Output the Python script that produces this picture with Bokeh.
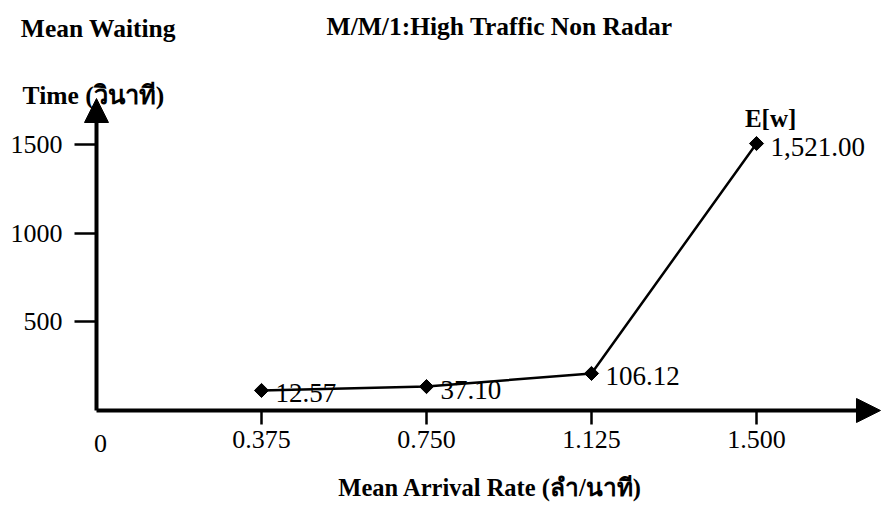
import math
from bokeh.plotting import figure
from bokeh.models import (ColumnDataSource, FixedTicker, Label, LabelSet, Arrow,
                          NormalHead, Range1d, LinearAxis)
from bokeh.embed import file_html
from bokeh.resources import INLINE

# ---- data ----
arrival_rate = [0.375, 0.750, 1.125, 1.500]
mean_wait = [12.57, 37.10, 106.12, 1521.00]          # E[w] values as printed
drawn_height = [113, 135, 209, 1506]                  # heights as drawn in the figure
point_labels = ["12.57", "37.10", "106.12", "1,521.00"]
x_tick_labels = ["0.375", "0.750", "1.125", "1.500"]
y_ticks = [500, 1000, 1500]

title_text = "M/M/1:High Traffic Non Radar"
y_title_1 = "Mean Waiting"
y_title_2 = "Time (วินาที)"
x_title = "Mean Arrival Rate (ลำ/นาที)"
series_name = "E[w]"

SERIF = "Liberation Serif"

X_ARROW = 1.7818
Y_ARROW = 1760

p = figure(width=881, height=514, output_backend="svg", toolbar_location=None,
           x_range=Range1d(-0.21818, 1.78409), y_range=Range1d(-586.7, 2312.9),
           x_axis_type=None, y_axis_type=None,
           min_border=0)
p.outline_line_color = None
p.xgrid.visible = False
p.ygrid.visible = False
p.background_fill_color = "white"
p.border_fill_color = "white"

# axes placed at the origin
xa = LinearAxis(fixed_location=0)
xa.ticker = FixedTicker(ticks=arrival_rate)
xa.major_label_overrides = {v: s for v, s in zip(arrival_rate, x_tick_labels)}
xa.axis_line_color = None
xa.major_tick_out = 14
xa.major_tick_in = 0
xa.major_tick_line_width = 2.5
xa.major_tick_line_color = "black"
xa.minor_tick_line_color = None
xa.major_label_text_font = SERIF
xa.major_label_text_font_size = "26px"
xa.major_label_text_color = "black"
xa.major_label_standoff = 7
p.add_layout(xa, "below")

ya = LinearAxis(fixed_location=0)
ya.ticker = FixedTicker(ticks=y_ticks)
ya.axis_line_color = None
ya.major_tick_out = 22
ya.major_tick_in = 0
ya.major_tick_line_width = 2.5
ya.major_tick_line_color = "black"
ya.minor_tick_line_color = None
ya.major_label_text_font = SERIF
ya.major_label_text_font_size = "26px"
ya.major_label_text_color = "black"
ya.major_label_standoff = 12
p.add_layout(ya, "left")

# arrow axes
p.add_layout(Arrow(end=NormalHead(size=24, fill_color="black", line_color="black"),
                   x_start=0, y_start=0, x_end=X_ARROW, y_end=0,
                   line_width=4, line_color="black"))
p.add_layout(Arrow(end=NormalHead(size=24, fill_color="black", line_color="black"),
                   x_start=0, y_start=0, x_end=0, y_end=Y_ARROW,
                   line_width=4, line_color="black"))

# series
src = ColumnDataSource(dict(x=arrival_rate, y=drawn_height, lab=point_labels, val=mean_wait))
p.line("x", "y", source=src, line_color="black", line_width=2.5)
p.scatter("x", "y", source=src, marker="square", angle=math.pi / 4, size=10,
          fill_color="black", line_color="black")
p.add_layout(LabelSet(x="x", y="y", text="lab", source=src, x_offset=14, y_offset=-3,
                      text_baseline="middle", text_align="left", text_font=SERIF,
                      text_font_size="27px", text_color="black"))

# texts
def lab(x, y, t, size, bold=True, align="left", baseline="alphabetic"):
    p.add_layout(Label(x=x, y=y, text=t, text_font=SERIF, text_font_size=size,
                       text_font_style="bold" if bold else "normal",
                       text_align=align, text_baseline=baseline, text_color="black"))

lab(0.916, 2169, title_text, "25.5px", align="center")
lab(-0.172, 2157, y_title_1, "25.5px")
lab(-0.168, 1779, y_title_2, "25.5px")
lab(0.895, -437, x_title, "24.5px", align="center")
lab(1.532, 1650, series_name, "25px", align="center")
lab(0.009, -141, "0", "26px", bold=False, align="center", baseline="top")

open("out.html", "w").write(file_html(p, INLINE))
